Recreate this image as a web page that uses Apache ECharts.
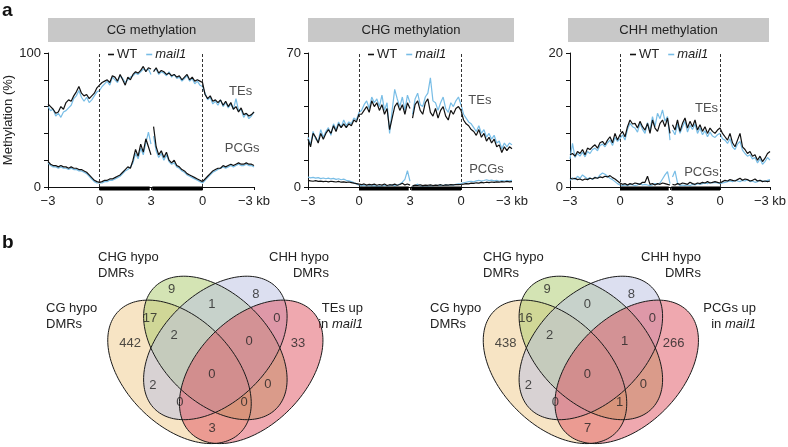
<!DOCTYPE html>
<html><head><meta charset="utf-8">
<script src="https://cdn.jsdelivr.net/npm/echarts@6/dist/echarts.min.js"></script>
<style>html,body{margin:0;padding:0;background:#fff}#c{width:788px;height:447px}</style>
</head><body><div id="c"></div>
<script>
// ---------------- DATA ----------------
// bins along the metagene: 0..1 = -3kb upstream, 1..3 = body (two halves), 3..4 = +3kb downstream
const BIN_COUNT = 81;            // 0.05-unit bins
const BODY_SPLIT_INDEX = 40;     // line break between 5' and 3' halves
const X_TICK_LABELS = ['\u22123', '0', '3', '0', '\u22123 kb'];
const PANEL_TITLES = ['CG methylation', 'CHG methylation', 'CHH methylation'];
const Y_MAX = [100, 70, 20];
const Y_STEP = [20, 14, 4];

const CG_TE_WT = [62,60,58,55,56,60,58,63,65,64, 68,71,75,70,68,69,66,68,70,74, 76,
 78,79,80,78,83,82,79,84,80,76,82,80,84,86,85,87,90,86,89, 88,
 86,89,85,87,86,84,85,83,84,82,83,80,82,84,80,82,79,80,79, 78,
 69,66,68,64,65,63,65,61,64,60,63,58,60,56,59,54,55,53,54,56];
const CG_TE_MAIL1 = [60,57,58,53,55,52,56,57,59,61, 66,68,72,67,64,67,63,65,68,71, 72,
 75,77,79,76,82,80,78,83,81,78,80,82,83,85,84,86,88,87,88, 84,
 87,88,84,86,85,83,86,82,84,81,82,79,81,83,79,81,77,79,76, 75,
 70,65,67,62,64,61,65,60,63,59,62,58,66,57,58,52,55,51,53,56];
const CG_PCG_WT = [19,17,16,16,15,16,15,15,14,15, 14,14,13,13,12,11,9,7,5,4, 3.5,
 4,5,5,6,6,7,8,9,11,13,15,14,20,28,23,32,26,36,30, 24,
 45,30,24,27,22,26,20,18,20,16,15,13,12,10,9,8,7,6,5, 4,
 6,8,10,12,13,14,14,16,15,16,17,16,17,18,17,17,18,17,17,16];
const CG_PCG_MAIL1 = [18,16,15,15,14,15,14,14,13,14, 13,13,12,12,11,10,8,6,4,3, 3,
 3,4,4,5,5,6,7,8,10,12,13,15,18,25,21,29,24,33,41, 32,
 38,27,22,25,20,24,19,17,18,15,14,12,11,9,8,7,6,5,4, 3,
 5,7,9,11,12,13,14,15,14,15,16,15,16,17,16,16,17,16,16,15];

const CHG_TE_WT = [25,21,28,26,23,28,25,28,30,28, 32,29,33,31,33,31,33,32,35,34, 38,
 38,40,42,39,45,42,44,40,43,38,41,30,36,42,44,40,43,38,44, 41,
 36,43,45,40,38,44,46,39,37,41,36,40,42,37,35,40,38,41,42, 40,
 35,33,32,30,29,27,30,26,28,24,26,23,25,21,22,18,21,19,21,20];
const CHG_TE_MAIL1 = [26,22,29,25,24,30,26,29,31,27, 33,30,34,31,35,32,34,33,36,35, 39,
 40,43,45,41,47,44,46,42,48,40,44,28,40,51,46,42,47,40,48, 44,
 38,46,49,43,42,47,49,57,45,44,40,44,47,41,39,44,42,45,47, 43,
 38,36,34,33,31,29,32,28,30,26,28,25,27,23,24,20,23,21,23,22];
const CHG_PCG_WT = [3.5,3.2,3.0,3.3,2.9,3.1,2.8,3.0,2.7,3.0, 2.8,2.6,2.9,2.5,2.7,2.4,2.6,2.3,2.0,1.8, 1.5,
 1.2,1.6,1.0,1.4,1.1,1.5,0.9,1.3,1.0,1.6,0.8,1.2,1.0,1.5,0.9,1.3,2.0,1.1,1.6, 1.0,
 0.6,1.0,0.8,1.2,0.7,1.0,0.9,1.1,0.8,1.0,0.9,1.2,0.8,1.1,1.0,1.2,1.1,1.3,1.2, 1.3,
 1.5,1.8,1.6,2.0,1.9,2.2,2.0,2.4,2.2,2.5,2.3,2.6,2.4,2.7,2.5,2.8,2.6,2.9,2.7,2.8];
const CHG_PCG_MAIL1 = [5.2,4.8,5.0,4.6,4.9,4.4,4.7,4.3,4.6,4.2, 4.5,4.0,4.3,3.8,4.1,3.5,3.2,2.8,2.3,1.6, 1.0,
 0.6,0.9,0.4,0.8,0.5,0.7,0.3,0.6,0.4,0.9,0.5,0.7,1.2,0.6,0.9,1.5,2.5,4.0,8.5, 3.0,
 0.5,0.8,1.5,0.6,0.4,0.7,0.5,0.8,0.6,0.9,0.7,1.0,0.8,1.1,0.9,1.2,1.0,1.4,1.6, 1.8,
 2.2,2.5,2.8,3.0,2.7,3.2,3.5,3.1,3.4,3.8,3.3,3.6,3.2,3.5,3.0,3.3,3.1,3.4,3.2,3.5];

const CHH_TE_WT = [4.8,5.0,4.6,5.3,5.0,5.6,4.8,5.8,5.6,6.0, 6.3,5.8,6.6,6.8,6.3,7.0,7.5,6.6,8.0,7.0, 7.8,
 8.3,7.5,9.0,10.0,9.4,9.5,8.8,9.8,9.0,8.5,9.5,8.0,10.0,8.8,8.3,9.5,10.0,9.0,10.3, 8.0,
 9.3,8.5,10.0,8.3,9.5,10.3,8.8,9.8,9.0,10.0,8.5,9.3,8.3,9.0,8.0,8.8,8.3,8.0,8.5, 8.8,
 8.0,7.5,7.0,8.0,6.6,6.0,7.0,8.0,6.0,5.6,5.0,5.3,4.6,4.8,4.0,4.6,3.8,4.3,5.0,5.3];
const CHH_TE_MAIL1 = [4.2,6.5,4.4,5.0,4.6,5.2,4.5,5.3,5.0,5.6, 5.8,5.4,6.2,6.4,6.0,6.6,7.0,6.2,7.4,6.8, 7.2,
 7.8,7.0,8.6,9.5,9.0,8.8,8.2,9.5,8.6,8.0,9.6,8.4,10.5,9.0,11.0,10.2,11.5,9.8,10.5, 7.0,
 8.5,7.8,9.4,8.0,9.0,9.8,8.2,9.2,8.6,9.4,8.0,8.8,7.8,8.4,7.5,8.2,7.6,7.4,7.8, 8.0,
 7.2,7.0,6.5,7.2,6.0,5.6,6.4,6.8,5.5,5.0,4.6,4.8,4.2,4.4,3.6,4.2,3.4,3.8,4.4,4.0];
const CHH_PCG_WT = [1.3,1.2,1.3,1.1,1.2,1.0,1.2,1.1,1.3,1.2, 1.4,1.3,1.5,1.4,1.6,1.5,1.7,1.4,1.2,0.9, 0.6,
 0.4,0.5,0.3,0.5,0.4,0.6,0.5,0.4,0.7,0.7,1.6,0.4,0.5,0.3,0.5,0.4,0.6,0.5,0.4, 0.3,
 0.4,0.3,0.5,0.4,0.6,0.5,0.4,0.7,0.5,0.4,0.6,0.5,0.7,0.6,0.8,0.6,0.7,0.8,0.7, 0.6,
 0.8,1.0,0.9,1.1,1.0,0.9,1.1,1.3,1.0,1.2,1.1,0.9,1.0,1.2,0.9,1.0,0.8,0.9,0.8,0.9];
const CHH_PCG_MAIL1 = [1.0,1.4,1.1,1.6,1.3,1.8,1.5,1.2,1.4,1.1, 1.5,1.3,1.8,2.1,1.9,1.6,1.3,1.1,0.8,0.5, 0.3,
 0.2,0.3,0.2,0.4,0.3,0.2,0.3,0.5,0.3,0.4,0.3,0.2,0.3,0.5,0.4,0.6,1.2,1.8,2.3, 0.5,
 1.5,2.4,0.6,0.2,0.3,0.2,0.3,0.2,0.4,0.3,0.5,0.4,0.5,0.6,0.5,0.7,0.6,0.7,0.6, 0.5,
 0.6,0.7,0.8,0.9,0.8,1.0,0.9,0.8,1.0,0.9,1.1,0.8,0.9,0.7,0.8,1.0,0.9,0.8,1.0,1.1];

// Venn region counts (order of VENN_REGIONS)
const VENN_REGIONS = ['CHG','CHH','CHG&CHH','CG&CHG','CHH&X','CG','CG&CHG&CHH','CHG&CHH&X','X',
  'CG&CHG&CHH&X','CG&CHH','CHG&X','CG&CHH&X','CG&CHG&X','CG&X'];
const VENN_TE_COUNTS  = [9, 8, 1, 17, 0, 442, 2, 0, 33, 0, 2, 0, 0, 0, 3];
const VENN_PCG_COUNTS = [9, 8, 0, 16, 0, 438, 2, 1, 266, 0, 2, 0, 0, 1, 7];

// ---------------- LAYOUT / STYLE ----------------
const FONT = '"Liberation Sans", Arial, Helvetica, sans-serif';
const WT_COLOR = '#111111', MAIL_COLOR = '#78bde6';
const LINE_GRIDS = [
  {left: 48, top: 53, width: 206, height: 134},
  {left: 308, top: 53, width: 204, height: 134},
  {left: 570, top: 53, width: 200, height: 134}
];
// venn grids: unit square, y up (extends below the canvas edge)
const VENN_GRIDS = [
  {left: 95.85, top: 228.45, width: 239, height: 239},
  {left: 471.35, top: 228.45, width: 239, height: 239}
];
const HEADERS = [{x: 48, w: 207}, {x: 308, w: 206}, {x: 568, w: 201}];
const ANNOT = [
  [{t: 'TEs', x: 3.74, y: 71}, {t: 'PCGs', x: 3.77, y: 29}],
  [{t: 'TEs', x: 3.37, y: 45}, {t: 'PCGs', x: 3.50, y: 9}],
  [{t: 'TEs', x: 2.73, y: 11.8}, {t: 'PCGs', x: 2.63, y: 2.25}]
];
const GENE_BODY = [[1, 2], [2, 3]];
// four-ellipse venn geometry (unit square, y up)
const VENN_SHAPES = [
  {cx: 0.35, cy: 0.40, a: 0.36, b: 0.225, ang: -45, fill: 'rgba(239,201,137,0.5)'},
  {cx: 0.50, cy: 0.50, a: 0.36, b: 0.225, ang: -45, fill: 'rgba(169,201,105,0.5)'},
  {cx: 0.50, cy: 0.50, a: 0.36, b: 0.225, ang: 45,  fill: 'rgba(185,191,225,0.5)'},
  {cx: 0.65, cy: 0.40, a: 0.36, b: 0.225, ang: 45,  fill: 'rgba(223,81,95,0.5)'}
];
const VENN_LABEL_POS = [[0.317,0.743],[0.670,0.726],[0.485,0.684],[0.227,0.625],[0.757,0.625],
  [0.143,0.521],[0.327,0.554],[0.641,0.529],[0.846,0.521],[0.485,0.391],[0.239,0.345],
  [0.720,0.349],[0.352,0.274],[0.620,0.274],[0.486,0.165]];

const BIN_X = Array.from({length: BIN_COUNT}, (_, i) => i / 20);

function toPairs(vals) {
  const out = [];
  vals.forEach((v, i) => {
    out.push([BIN_X[i], v]);
    if (i === BODY_SPLIT_INDEX) out.push([BIN_X[i], null]);
  });
  return out;
}

const grid = [], xAxis = [], yAxis = [], series = [], legend = [], graphic = [];

const LINE_DATA = [
  [CG_TE_WT, CG_TE_MAIL1, CG_PCG_WT, CG_PCG_MAIL1],
  [CHG_TE_WT, CHG_TE_MAIL1, CHG_PCG_WT, CHG_PCG_MAIL1],
  [CHH_TE_WT, CHH_TE_MAIL1, CHH_PCG_WT, CHH_PCG_MAIL1]
];

LINE_GRIDS.forEach((g, gi) => {
  grid.push(Object.assign({outerBoundsMode: 'none', containLabel: false}, g));
  xAxis.push({
    gridIndex: gi, type: 'value', min: 0, max: 4, interval: 1,
    axisLine: {show: true, lineStyle: {color: '#111', width: 1}},
    axisTick: {show: true, length: 3, lineStyle: {color: '#111'}},
    splitLine: {show: false},
    axisLabel: {margin: 8, fontSize: 13, color: '#222', fontFamily: FONT,
      showMinLabel: true, showMaxLabel: true, hideOverlap: false,
      formatter: v => X_TICK_LABELS[Math.round(v)]}
  });
  const ymax = Y_MAX[gi];
  yAxis.push(Object.assign({
    gridIndex: gi, type: 'value', min: 0, max: ymax, interval: Y_STEP[gi],
    axisLine: {show: true, lineStyle: {color: '#111', width: 1}},
    axisTick: {show: true, length: 4, inside: false, lineStyle: {color: '#111'}},
    splitLine: {show: false},
    axisLabel: {margin: 7, fontSize: 13, color: '#222', fontFamily: FONT,
      showMinLabel: true, showMaxLabel: true, hideOverlap: false,
      formatter: v => (v === 0 || v === ymax) ? String(v) : ''}
  }, gi === 0 ? {
    name: 'Methylation (%)', nameLocation: 'middle', nameGap: 31, nameRotate: 90,
    nameTextStyle: {fontSize: 13, color: '#222', fontFamily: FONT}
  } : {}));

  const [teWT, teM, pcgWT, pcgM] = LINE_DATA[gi];
  const mk = (name, vals, color, extra) => Object.assign({
    type: 'line', name, xAxisIndex: gi, yAxisIndex: gi, data: toPairs(vals),
    showSymbol: false, symbol: 'none', connectNulls: false, silent: true,
    lineStyle: {color, width: 1.2}, itemStyle: {color}, z: 3
  }, extra || {});
  series.push(mk('mail1', teM, MAIL_COLOR));
  series.push(mk('mail1', pcgM, MAIL_COLOR));
  series.push(mk('WT', teWT, WT_COLOR, {
    markLine: {silent: true, symbol: 'none', label: {show: false},
      lineStyle: {type: [3, 2], color: '#333', width: 1},
      data: [{xAxis: 1}, {xAxis: 3}]}
  }));
  series.push(mk('WT', pcgWT, WT_COLOR));
  // gene body bar
  series.push({
    type: 'custom', xAxisIndex: gi, yAxisIndex: gi, silent: true, z: 5,
    data: GENE_BODY,
    renderItem: (p, api) => {
      const a = api.coord([api.value(0), 0]);
      const b = api.coord([api.value(1), 0]);
      const gl = p.dataIndex === 1 ? 1.3 : 0, gr = p.dataIndex === 0 ? 1.3 : 0;
      return {type: 'rect', shape: {x: a[0] + gl, y: a[1] - 0.5, width: b[0] - a[0] - gl - gr, height: 4},
        style: {fill: '#000'}};
    }
  });
  // TEs / PCGs annotations
  series.push({
    type: 'scatter', xAxisIndex: gi, yAxisIndex: gi, silent: true, symbolSize: 1,
    itemStyle: {color: 'rgba(0,0,0,0)'}, z: 6,
    data: ANNOT[gi].map(a => ({value: [a.x, a.y], name: a.t})),
    label: {show: true, position: 'inside', formatter: '{b}', color: '#222', fontSize: 13, fontFamily: FONT}
  });
  legend.push({
    left: g.left + 60, top: 48, padding: 0, itemGap: 9, itemWidth: 6, itemHeight: 1.6, icon: 'rect',
    selectedMode: false, data: ['WT', 'mail1'],
    formatter: n => n === 'mail1' ? '{i|mail1}' : n,
    textStyle: {fontSize: 13, color: '#222', fontFamily: FONT, padding: [0, 0, 0, -2],
      rich: {i: {fontStyle: 'italic', fontSize: 13, color: '#222', fontFamily: FONT}}}
  });
  const h = HEADERS[gi];
  graphic.push({type: 'rect', shape: {x: h.x, y: 18, width: h.w, height: 24}, style: {fill: '#c8c8c8'}, silent: true});
  graphic.push({type: 'text', x: h.x + h.w / 2, y: 30, silent: true,
    style: {text: PANEL_TITLES[gi], align: 'center', verticalAlign: 'middle', font: '13px ' + FONT, fill: '#222'}});
});

// Venn diagrams
const VENN_COUNTS = [VENN_TE_COUNTS, VENN_PCG_COUNTS];
function ellipsePoints(e, api) {
  const pts = [], r = e.ang * Math.PI / 180, c = Math.cos(r), s = Math.sin(r);
  for (let k = 0; k < 160; k++) {
    const t = k / 160 * 2 * Math.PI, u = e.a * Math.cos(t), v = e.b * Math.sin(t);
    pts.push(api.coord([e.cx + u * c - v * s, e.cy + u * s + v * c]));
  }
  return pts;
}
VENN_GRIDS.forEach((g, vi) => {
  const gi = LINE_GRIDS.length + vi;
  grid.push(Object.assign({outerBoundsMode: 'none', containLabel: false}, g));
  xAxis.push({gridIndex: gi, type: 'value', min: 0, max: 1, show: false});
  yAxis.push({gridIndex: gi, type: 'value', min: 0, max: 1, show: false});
  const shapeData = VENN_SHAPES.map(e => [e.cx, e.cy]);
  series.push({
    type: 'custom', xAxisIndex: gi, yAxisIndex: gi, silent: true, z: 1, data: shapeData, clip: false,
    renderItem: (p, api) => ({type: 'polygon', shape: {points: ellipsePoints(VENN_SHAPES[p.dataIndex], api)},
      style: {fill: VENN_SHAPES[p.dataIndex].fill, stroke: null}})
  });
  series.push({
    type: 'custom', xAxisIndex: gi, yAxisIndex: gi, silent: true, z: 2, data: shapeData, clip: false,
    renderItem: (p, api) => ({type: 'polygon', shape: {points: ellipsePoints(VENN_SHAPES[p.dataIndex], api)},
      style: {fill: 'none', stroke: '#1a1a1a', lineWidth: 1}})
  });
  series.push({
    type: 'scatter', xAxisIndex: gi, yAxisIndex: gi, silent: true, symbolSize: 1, z: 4,
    itemStyle: {color: 'rgba(0,0,0,0)'},
    data: VENN_LABEL_POS.map((pos, i) => ({value: pos, name: String(VENN_COUNTS[vi][i])})),
    label: {show: true, position: 'inside', formatter: '{b}', color: '#222', fontSize: 13, fontFamily: FONT}
  });
});

// set names
const SET_LABELS = [
  {x: 98, y: 249, align: 'left', text: '{n|CHG hypo}\n{n|DMRs}'},
  {x: 329, y: 249, align: 'right', text: '{n|CHH hypo}\n{n|DMRs}'},
  {x: 46, y: 300, align: 'left', text: '{n|CG hypo}\n{n|DMRs}'},
  {x: 363, y: 300, align: 'right', text: '{n|TEs up}\n{n|in }{i|mail1}'},
  {x: 483, y: 249, align: 'left', text: '{n|CHG hypo}\n{n|DMRs}'},
  {x: 701, y: 249, align: 'right', text: '{n|CHH hypo}\n{n|DMRs}'},
  {x: 430, y: 300, align: 'left', text: '{n|CG hypo}\n{n|DMRs}'},
  {x: 756, y: 300, align: 'right', text: '{n|PCGs up}\n{n|in }{i|mail1}'}
];
SET_LABELS.forEach(l => graphic.push({
  type: 'text', x: l.x, y: l.y, silent: true,
  style: {text: l.text, align: l.align, verticalAlign: 'top',
    rich: {n: {fontSize: 13, fontFamily: FONT, fill: '#222', color: '#222', lineHeight: 16},
           i: {fontSize: 13, fontFamily: FONT, fill: '#222', color: '#222', fontStyle: 'italic', lineHeight: 16}}}
}));
graphic.push({type: 'text', x: 2, y: 11, silent: true,
  style: {text: 'a', font: 'bold 19px ' + FONT, fill: '#111', verticalAlign: 'middle'}});
graphic.push({type: 'text', x: 2, y: 243, silent: true,
  style: {text: 'b', font: 'bold 19px ' + FONT, fill: '#111', verticalAlign: 'middle'}});

const chart = echarts.init(document.getElementById('c'), null, {renderer: 'canvas'});
chart.setOption({
  animation: false, backgroundColor: '#fff',
  textStyle: {fontFamily: FONT},
  grid, xAxis, yAxis, series, legend, graphic
});
</script></body></html>
